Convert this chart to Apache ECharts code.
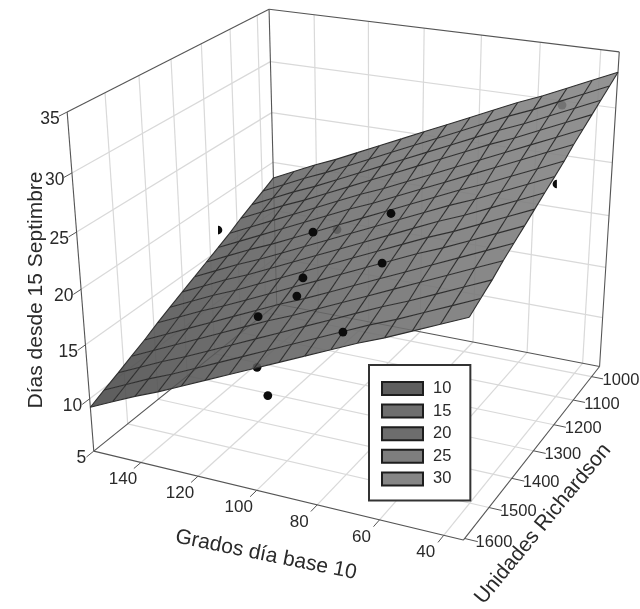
<!DOCTYPE html><html><head><meta charset="utf-8"><style>html,body{margin:0;background:#fff}#c{width:640px;height:609px}</style></head><body><div id="c"></div>
<script src="https://cdn.jsdelivr.net/npm/echarts@6/dist/echarts.min.js"></script><script>
const gddTicks=[140,120,100,80,60,40];
const ruTicks=[1600,1500,1400,1300,1200,1100,1000];
const dayTicks=[5,10,15,20,25,30,35];
const legendLabels=['10','15','20','25','30'];
const gddRange=[34,157], ruRange=[955,1605], dayRange=[5,35];
const meshGdd=[34,42.2,50.4,58.6,66.8,75,83.2,91.4,99.6,107.8,116,124.2,132.4,140.6,148.8,157];
const meshRu=[955,998,1042,1085,1128,1172,1215,1258,1302,1345,1388,1432,1475,1518,1562,1605];
const meshDays=[
[33.2,32.2,31.2,30.2,29.3,28.3,27.3,26.3,25.3,24.3,23.3,22.3,21.3,20.4,19.4,18.4],
[32.6,31.6,30.6,29.6,28.7,27.7,26.7,25.7,24.7,23.7,22.7,21.7,20.7,19.8,18.8,17.8],
[32.0,31.0,30.0,29.0,28.1,27.1,26.1,25.1,24.1,23.1,22.1,21.1,20.1,19.2,18.2,17.2],
[31.4,30.4,29.4,28.4,27.5,26.5,25.5,24.5,23.5,22.5,21.5,20.5,19.5,18.6,17.6,16.6],
[30.8,29.8,28.8,27.8,26.8,25.8,24.8,23.8,22.8,21.9,20.9,19.9,18.9,17.9,16.9,15.9],
[30.2,29.2,28.2,27.2,26.2,25.2,24.2,23.2,22.2,21.3,20.3,19.3,18.3,17.3,16.3,15.3],
[29.5,28.5,27.5,26.5,25.6,24.6,23.6,22.6,21.6,20.6,19.6,18.6,17.6,16.7,15.7,14.7],
[28.9,27.9,26.9,25.9,25.0,24.0,23.0,22.0,21.0,20.0,19.0,18.0,17.0,16.1,15.1,14.1],
[28.3,27.3,26.3,25.3,24.4,23.4,22.4,21.4,20.4,19.4,18.4,17.4,16.4,15.5,14.5,13.5],
[27.7,26.7,25.7,24.7,23.8,22.8,21.8,20.8,19.8,18.8,17.8,16.8,15.8,14.9,13.9,12.9],
[27.1,26.1,25.1,24.1,23.2,22.2,21.2,20.2,19.2,18.2,17.2,16.2,15.2,14.3,13.3,12.3],
[26.5,25.5,24.5,23.5,22.5,21.5,20.5,19.5,18.5,17.6,16.6,15.6,14.6,13.6,12.6,11.6],
[25.9,24.9,23.9,22.9,21.9,20.9,19.9,18.9,17.9,17.0,16.0,15.0,14.0,13.0,12.0,11.0],
[25.2,24.2,23.2,22.2,21.3,20.3,19.3,18.3,17.3,16.3,15.3,14.3,13.3,12.4,11.4,10.4],
[24.6,23.6,22.6,21.6,20.7,19.7,18.7,17.7,16.7,15.7,14.7,13.7,12.7,11.8,10.8,9.8],
[24.0,23.0,22.0,21.0,20.1,19.1,18.1,17.1,16.1,15.1,14.1,13.1,12.1,11.2,10.2,9.2]];
// observed points: grados día, unidades Richardson, días
const pointGdd=[81.9,72.0,109.6,99.4,96.5,106.5,72.2,114.1,102.0,103.0,152.4,37.3,50.4];
const pointRu=[1307,1457,1293,1438,1490,1520,1594,1153,1572,1530,1212,1193,977];
const pointDays=[24.5,23.5,21.3,20.5,20.1,18.4,20.5,18.7,15.3,11.7,18,27,30];
const pointsAbove=7; // the first seven lie above the surface, the rest under it
const clippedPoints={10:'right',11:'left'}; // half-hidden markers in the reference

// camera of the 3-D box (homogeneous 3x4 matrix)
const P=[-1.981173,-0.2653487,-0.8016444,810.3466,-0.2528235,0.1047751,-8.606405,248.3985,0.0005231191,-0.0002064222,-0.002153511];
function project(g,r,d){const w=P[8]*g+P[9]*r+P[10]*d+1;return[(P[0]*g+P[1]*r+P[2]*d+P[3])/w,(P[4]*g+P[5]*r+P[6]*d+P[7])/w];}
const [G0,G1]=gddRange,[R0,R1]=ruRange,[D0,D1]=dayRange;
function grayFor(d){const stops=[[9,92],[15,110],[20,124],[25,136],[33,148]];let t=stops[stops.length-1][1];
 for(let i=1;i<stops.length;i++)if(d<=stops[i][0]){const a=stops[i-1],b=stops[i];t=a[1]+(b[1]-a[1])*Math.max(0,d-a[0])/(b[0]-a[0]);break;}
 const c=Math.round((t-30.6)/0.88);return`rgba(${c},${c},${c},0.88)`;}

const base={type:'custom',coordinateSystem:'cartesian2d',silent:true,clip:false,animation:false,legendHoverLink:false};
function rows(a){return a.map((_,i)=>[i,0]);}
function segs(list,stroke,lineWidth,z){return{...base,z,data:rows(list),renderItem(p,api){const s=list[p.dataIndex];
 const a=api.coord(project(s[0],s[1],s[2])),b=api.coord(project(s[3],s[4],s[5]));
 return{type:'line',shape:{x1:a[0],y1:a[1],x2:b[0],y2:b[1]},style:{stroke,lineWidth,fill:null}};}};}
function labels(list,z){return{...base,z,data:rows(list),renderItem(p,api){const s=list[p.dataIndex];const a=api.coord(project(s[0],s[1],s[2]));
 return{type:'text',x:a[0]+s[4],y:a[1]+s[5],style:{text:s[3],fill:'#2a2a2a',font:s[7]+'px "Liberation Sans", Arial',textAlign:s[6],textVerticalAlign:'middle'}};}};}
function points(idx,z){return{...base,z,data:rows(idx),renderItem(p,api){const i=idx[p.dataIndex];const a=api.coord(project(pointGdd[i],pointRu[i],pointDays[i]));
 const side=clippedPoints[i];
 if(side){const st=side==='right'?-Math.PI/2:Math.PI/2;return{type:'sector',shape:{cx:a[0],cy:a[1],r:4.3,r0:0,startAngle:st,endAngle:st+Math.PI,clockwise:true},style:{fill:'#0c0c0c'}};}
 return{type:'circle',shape:{cx:a[0],cy:a[1],r:4.4},style:{fill:'#0c0c0c'}};}};}

const grid=[];
gddTicks.forEach(g=>{grid.push([g,R0,D0,g,R1,D0],[g,R0,D0,g,R0,D1]);});
ruTicks.slice(1).forEach(r=>{grid.push([G0,r,D0,G1,r,D0],[G1,r,D0,G1,r,D1]);});
dayTicks.slice(1,-1).forEach(d=>{grid.push([G1,R1,d,G1,R0,d],[G1,R0,d,G0,R0,d]);});
const frameBack=[[G1,R0,D0,G1,R0,D1],[G1,R1,D0,G1,R1,D1],[G0,R0,D0,G0,R0,D1],[G1,R1,D1,G1,R0,D1],[G1,R0,D1,G0,R0,D1],[G1,R0,D0,G0,R0,D0],[G1,R0,D0,G1,R1,D0],[G1,R1,D0,G0,R1,D0],[G0,R1,D0,G0,R0,D0]];
const tickMarks=[];
gddTicks.forEach(g=>tickMarks.push([g,R1,D0,g,R1+22,D0]));
ruTicks.forEach(r=>tickMarks.push([G0,r,D0,G0-4,r,D0]));
dayTicks.forEach(d=>tickMarks.push([G1,R1,d,G1,R1+22,d]));
const tickText=[];
gddTicks.forEach(g=>tickText.push([g,R1,D0,String(g),-18,17,'center',17]));
ruTicks.forEach(r=>tickText.push([G0,r,D0,String(r),11,4,'left',16.5]));
dayTicks.forEach(d=>tickText.push([G1,R1,d,String(d),-7.5,7,'right',17.5]));

const meshLines=[];
meshRu.forEach((r,j)=>{for(let i=0;i<meshGdd.length-1;i++)meshLines.push([meshGdd[i],r,meshDays[j][i],meshGdd[i+1],r,meshDays[j][i+1]]);});
meshGdd.forEach((g,i)=>{for(let j=0;j<meshRu.length-1;j++)meshLines.push([g,meshRu[j],meshDays[j][i],g,meshRu[j+1],meshDays[j+1][i]]);});

const bandColors=['#5e5e5e','#6f6f6f','#6d6d6d','#7e7e7e','#868686'];
const bandCells=legendLabels.map(()=>[]);
for(let j=0;j<meshRu.length-1;j++)for(let i=0;i<meshGdd.length-1;i++){
 const m=(meshDays[j][i]+meshDays[j][i+1]+meshDays[j+1][i]+meshDays[j+1][i+1])/4;
 const b=Math.max(0,Math.min(4,Math.round((m-10)/5)));bandCells[b].push([i,j,m]);}
const surface=legendLabels.map((name,b)=>({...base,name,z:5,itemStyle:{color:bandColors[b],borderColor:'#1e1e1e',borderWidth:1.5},data:bandCells[b],
 renderItem(p,api){const i=api.value(0),j=api.value(1);
  const c=[[i,j],[i+1,j],[i+1,j+1],[i,j+1]].map(([a,q])=>api.coord(project(meshGdd[a],meshRu[q],meshDays[q][a])));
  return{type:'polygon',shape:{points:c},style:{fill:grayFor(api.value(2))}};}}));

const idxAbove=pointGdd.map((_,i)=>i).filter(i=>i<pointsAbove||clippedPoints[i]);
const idxBelow=pointGdd.map((_,i)=>i).filter(i=>!idxAbove.includes(i));
const titleFont='21px "Liberation Sans", Arial';
const chart=echarts.init(document.getElementById('c'),null,{renderer:'canvas'});
chart.setOption({animation:false,backgroundColor:'#fff',
 grid:{left:0,right:0,top:0,bottom:0},
 xAxis:{type:'value',min:0,max:640,show:false},
 yAxis:{type:'value',min:0,max:609,inverse:true,show:false},
 legend:{show:true,data:legendLabels,left:369,top:365,orient:'vertical',selectedMode:false,itemWidth:41,itemHeight:13,itemGap:5.6,padding:[15,19,13,12],
  backgroundColor:'#fff',borderColor:'#333',borderWidth:2,borderRadius:0,icon:'rect',textStyle:{fontSize:16.5,color:'#2a2a2a',fontFamily:'"Liberation Sans", Arial',padding:[0,0,0,5]}},
 graphic:[
  {type:'text',x:36,y:290,rotation:Math.PI/2,style:{text:'Días desde 15 Septimbre',font:titleFont,fill:'#2a2a2a',textAlign:'center',textVerticalAlign:'middle'}},
  {type:'text',x:266,y:555,rotation:-0.2,style:{text:'Grados día base 10',font:titleFont,fill:'#2a2a2a',textAlign:'center',textVerticalAlign:'middle'}},
  {type:'text',x:543,y:524,rotation:0.88,style:{text:'Unidades Richardson',font:titleFont,fill:'#2a2a2a',textAlign:'center',textVerticalAlign:'middle'}}
 ],
 series:[segs(grid,'#d9d9d9',1.2,1),segs(frameBack,'#555',1.1,2),points(idxBelow,3),...surface,segs(meshLines,'#2e2e2e',1.1,6),points(idxAbove,7),segs(tickMarks,'#555',1,2),labels(tickText,8)]
});
</script></body></html>
